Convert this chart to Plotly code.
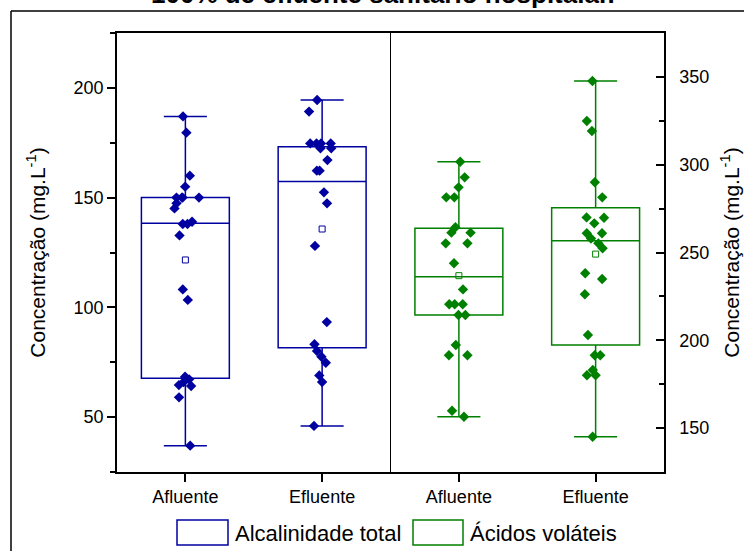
import plotly.graph_objects as go

# ---------------- data ----------------
categories = ["Afluente", "Efluente", "Afluente", "Efluente"]
positions = [1, 2, 3, 4]

# Alcalinidade total (left axis)
alc_afluente = [187, 179.6, 160, 155, 150, 150, 150, 150, 147.4, 145.1, 139, 138, 138,
                132.8, 108.2, 103.4, 68.4, 67.2, 66, 64.6, 64.2, 59, 37]
alc_efluente = [194.5, 189.2, 174.7, 174.7, 174.7, 174.7, 172.5, 172.5, 167.1, 162.3, 162.3,
                152.4, 147.4, 128, 93.3, 83.2, 80.1, 77.5, 74.8, 69, 66, 46]
alc_q1 = [67.7, 81.6]
alc_median = [138.3, 157.3]
alc_q3 = [150, 173.2]
alc_min = [37, 46]
alc_max = [187, 194.5]
alc_mean = [121.6, 135.7]

# Ácidos voláteis (right axis)
acv_afluente = [301.7, 292.8, 287.1, 281.4, 281.4, 264.4, 261.3, 261.3, 255.2, 255.2, 243.9,
                229, 220.5, 220.5, 220.5, 214.4, 214.4, 197.3, 191.5, 191.5, 159.9, 156.5]
acv_efluente = [347.7, 324.9, 319.2, 290, 281.4, 270, 269.8, 266.6, 261, 261, 258, 255.2,
                252.4, 238.2, 234.9, 226.2, 203, 191.5, 191.5, 183.1, 180.1, 180.1, 145.1]
acv_q1 = [214.4, 197.3]
acv_median = [236.2, 256.7]
acv_q3 = [263.8, 275.5]
acv_min = [156.5, 145.1]
acv_max = [301.7, 347.7]
acv_mean = [236.8, 249.1]

series_names = ["Alcalinidade total", "Ácidos voláteis"]
title_text = "100% de efluente sanitário hospitalar."
axis_title = "Concentração (mg.L<sup>-1</sup>)"

# ---------------- styling ----------------
BLUE = "#0000A0"
GREEN = "#008000"
FONT = "Liberation Sans, Arial, sans-serif"
BOXW = 0.643

fig = go.Figure()

def add_group(xs, q1, med, q3, lo, hi, mean, samples, color, yaxis, name):
    fig.add_trace(go.Box(
        x=xs, q1=q1, median=med, q3=q3, lowerfence=lo, upperfence=hi,
        width=BOXW, whiskerwidth=0.49, boxpoints=False,
        line=dict(color=color, width=1.5), fillcolor="rgba(255,255,255,0)",
        yaxis=yaxis, name=name, showlegend=False))
    xs_pts, ys_pts = [], []
    for xpos, arr in zip(xs, samples):
        xs_pts += [xpos] * len(arr)
        ys_pts += arr
    fig.add_trace(go.Box(
        x=xs_pts, y=ys_pts, width=BOXW, boxpoints="all", jitter=0.35, pointpos=0,
        line=dict(color="rgba(0,0,0,0)", width=0), fillcolor="rgba(0,0,0,0)",
        marker=dict(symbol="diamond", size=8, color=color, line=dict(width=0)),
        yaxis=yaxis, name=name, showlegend=False))
    fig.add_trace(go.Scatter(
        x=xs, y=mean, mode="markers", yaxis=yaxis, showlegend=False,
        marker=dict(symbol="square-open", size=6, color=color, line=dict(width=1))))

add_group(positions[:2], alc_q1, alc_median, alc_q3, alc_min, alc_max, alc_mean,
          [alc_afluente, alc_efluente], BLUE, "y", series_names[0])
add_group(positions[2:], acv_q1, acv_median, acv_q3, acv_min, acv_max, acv_mean,
          [acv_afluente, acv_efluente], GREEN, "y2", series_names[1])

L, R, T, B = 117, 80, 33, 79
W, H = 744, 551
pw, ph = W - L - R, H - T - B

def px(X):
    return (X - L) / pw

def py(Y):
    return (H - B - Y) / ph

shapes = [
    # divider between the two groups
    dict(type="line", xref="x", yref="paper", x0=2.5, x1=2.5, y0=0, y1=1,
         line=dict(color="black", width=1)),
    # outer frame (left and top edges visible)
    dict(type="line", xref="paper", yref="paper", x0=px(11), x1=px(11), y0=py(560), y1=py(11),
         line=dict(color="black", width=1.5)),
    dict(type="line", xref="paper", yref="paper", x0=px(11), x1=px(760), y0=py(11), y1=py(11),
         line=dict(color="black", width=1.5)),
    # legend swatches
    dict(type="rect", xref="paper", yref="paper", x0=px(177), x1=px(228), y0=py(545), y1=py(520),
         line=dict(color=BLUE, width=1.5), fillcolor="white"),
    dict(type="rect", xref="paper", yref="paper", x0=px(413), x1=px(463), y0=py(545), y1=py(520),
         line=dict(color=GREEN, width=1.5), fillcolor="white"),
]

annotations = [
    dict(text="<b>" + title_text + "</b>", xref="paper", yref="paper", x=px(383), y=py(-6),
         xanchor="center", yanchor="middle", showarrow=False,
         font=dict(family=FONT, size=26, color="black")),
    dict(text=series_names[0], xref="paper", yref="paper", x=px(233), y=py(533),
         xanchor="left", yanchor="middle", showarrow=False,
         font=dict(family=FONT, size=22, color="black")),
    dict(text=series_names[1], xref="paper", yref="paper", x=px(468), y=py(533),
         xanchor="left", yanchor="middle", showarrow=False,
         font=dict(family=FONT, size=22, color="black")),
]

fig.update_layout(
    width=W, height=H, margin=dict(l=L, r=R, t=T, b=B, pad=0, autoexpand=False),
    paper_bgcolor="white", plot_bgcolor="white",
    font=dict(family=FONT, color="black"),
    boxmode="overlay", showlegend=False,
    shapes=shapes, annotations=annotations,
    xaxis=dict(range=[0.5, 4.5], tickvals=positions, ticktext=categories,
               ticks="outside", ticklen=8, tickwidth=1.5, tickcolor="black",
               showline=True, linecolor="black", linewidth=1.5, mirror=True,
               showgrid=False, zeroline=False, tickfont=dict(size=18), automargin=False),
    yaxis=dict(range=[25, 225], tick0=0, dtick=50, ticks="outside", ticklen=8, tickwidth=1.5,
               tickcolor="black", minor=dict(dtick=25, tick0=0, ticks="outside", ticklen=5,
                                             tickwidth=1.5, tickcolor="black"),
               showline=True, linecolor="black", linewidth=1.5, showgrid=False, zeroline=False,
               tickfont=dict(size=18), automargin=False,
               title=dict(text=axis_title, font=dict(size=21), standoff=22)),
    yaxis2=dict(range=[125, 375], tick0=0, dtick=50, overlaying="y", side="right",
                ticks="inside", ticklen=8, tickwidth=1.5, tickcolor="black",
                minor=dict(dtick=25, tick0=0, ticks="inside", ticklen=5, tickwidth=1.5,
                           tickcolor="black"),
                showline=True, linecolor="black", linewidth=1.5, showgrid=False, zeroline=False,
                tickfont=dict(size=18), ticklabelstandoff=10, automargin=False,
                title=dict(text=axis_title, font=dict(size=21), standoff=16)),
)

fig.write_html("out.html", config={"displayModeBar": False},
               post_script="document.body.style.margin='0';")
